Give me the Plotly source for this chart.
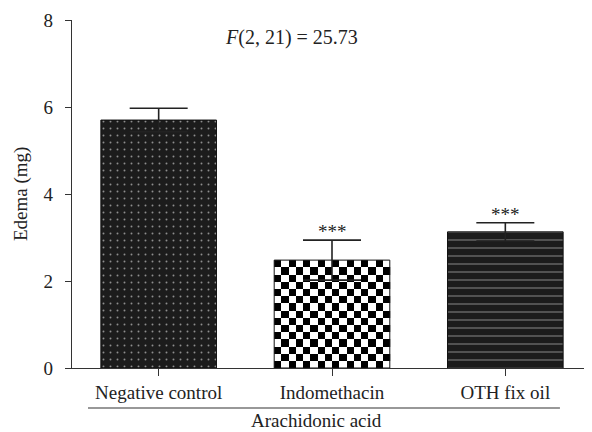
import plotly.graph_objects as go

categories = ["Negative control", "Indomethacin", "OTH fix oil"]
edema = [5.70, 2.48, 3.13]
sem = [0.27, 0.46, 0.21]
stars = ["", "***", "***"]
group_label = "Arachidonic acid"
y_title = "Edema (mg)"
stat_text = "<i>F</i>(2, 21) = 25.73"

FONT = "Liberation Serif"
BAR_W = 0.667
DARK = "#1c1c1c"
xpos = list(range(len(categories)))

fig = go.Figure()

# checkerboard fill for the Indomethacin bar (heatmap cells sized from the bar)
ci = 1
ncols, nrows = 16, 15
dx = BAR_W / ncols
dy = edema[ci] / nrows
z = [[(r + c + 1) % 2 for c in range(ncols)] for r in range(nrows)]
fig.add_trace(go.Heatmap(
    z=z, x0=xpos[ci] - BAR_W / 2 + dx / 2, dx=dx, y0=dy / 2, dy=dy,
    colorscale=[[0, "white"], [1, "black"]], showscale=False, hoverinfo="skip",
    zmin=0, zmax=1,
))

fig.add_trace(go.Bar(
    x=xpos, y=edema, width=BAR_W,
    marker=dict(
        color=[DARK, "rgba(0,0,0,0)", DARK],
        line=dict(color="#111111", width=1),
        pattern=dict(
            shape=[".", "", "-"],
            fgcolor=["#ffffff", "#000000", "#f0f0f0"],
            size=[7, 7, 8],
            solidity=[0.06, 0.1, 0.12],
            fillmode="overlay",
        ),
    ),
    error_y=dict(type="data", array=sem, symmetric=True, color="#222222",
                 thickness=1.6, width=29),
    showlegend=False,
))

for i, s in enumerate(stars):
    if s:
        fig.add_annotation(x=xpos[i], y=edema[i] + sem[i], text=s, showarrow=False,
                           yanchor="bottom", yshift=-4,
                           font=dict(family=FONT, size=19, color="#222"))

fig.add_annotation(x=0.423, xref="paper", y=0.951, yref="paper", text=stat_text,
                   showarrow=False, yanchor="middle",
                   font=dict(family=FONT, size=20, color="#222"))

fig.add_annotation(x=-0.121, xref="paper", y=0.5, yref="paper", text=y_title,
                   showarrow=False, textangle=-90, xanchor="left", yanchor="middle",
                   borderpad=0,
                   font=dict(family=FONT, size=19, color="#222"))

# group bracket line and label
fig.add_shape(type="line", xref="x", yref="paper", x0=-0.408, x1=2.315, y0=-0.115, y1=-0.115,
              line=dict(color="#333", width=1.2))
fig.add_annotation(x=0.913, xref="x", y=-0.15, yref="paper", text=group_label,
                   showarrow=False, yanchor="middle",
                   font=dict(family=FONT, size=19, color="#222"))

fig.update_layout(
    width=584, height=424,
    margin=dict(l=64, r=0, t=12, b=64),
    plot_bgcolor="white", paper_bgcolor="white",
    font=dict(family=FONT, size=19, color="#222"),
)
fig.update_xaxes(
    range=[-0.5, 2.5], tickmode="array", tickvals=xpos, ticktext=categories,
    showline=True, linecolor="#333", linewidth=1.2, ticks="outside", ticklen=7,
    tickcolor="#333", showgrid=False, zeroline=False,
    tickfont=dict(family=FONT, size=19),
)
fig.update_yaxes(
    range=[0, 8], tickvals=[0, 2, 4, 6, 8], showline=True, linecolor="#333",
    linewidth=1.2, ticks="outside", ticklen=6, tickcolor="#333", showgrid=False,
    zeroline=False, tickfont=dict(family=FONT, size=19), ticklabelstandoff=8,
)

fig.write_html("out.html")
